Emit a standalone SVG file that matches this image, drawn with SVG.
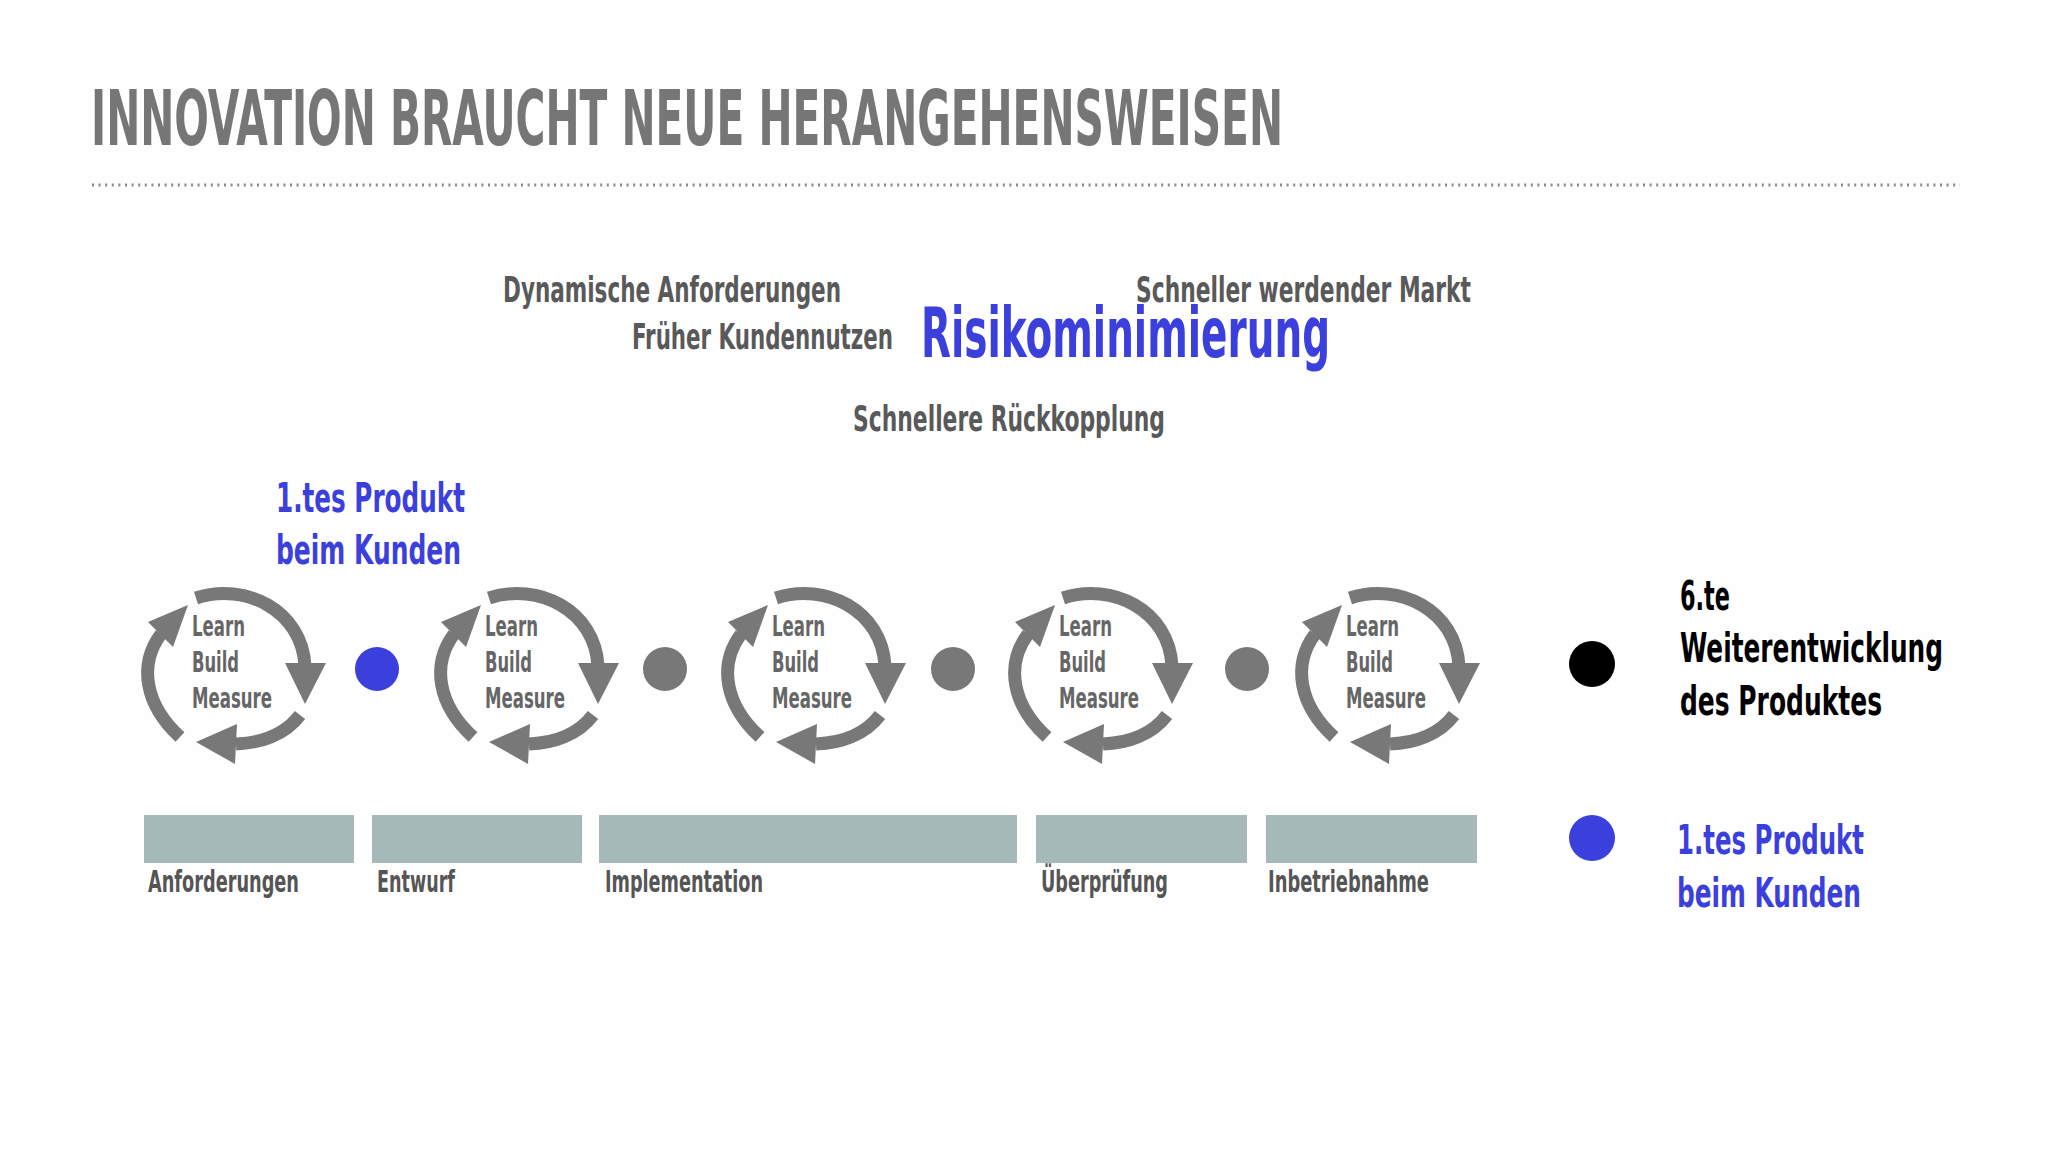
<svg xmlns="http://www.w3.org/2000/svg" width="2048" height="1152" viewBox="0 0 2048 1152">
<style>
text{font-family:"Liberation Sans Narrow","DejaVu Sans Condensed","Liberation Sans",sans-serif;font-weight:bold}
.title{font-size:77px;fill:#767676}
.kw{font-size:36px;fill:#595959}
.risk{font-size:70px;fill:#3b40dc}
.blue{font-size:40px;fill:#3b40dc}
.blk{font-size:40px;fill:#000}
.cyc{font-size:28px;fill:#666}
.lbl{font-size:31px;fill:#555}
.arc{fill:none;stroke:#787878;stroke-width:13}
.head{fill:#787878}
.bar{fill:#a6b9b9}
</style>
<defs>
<g id="cycleShape">
<path class="arc" d="M66 28 C115 12 172 40 175 96"/>
<polygon class="head" points="155,93 196,93 175,134"/>
<path class="arc" d="M170 145 C155 165 130 173 106 174"/>
<polygon class="head" points="107,154 105,194 66,172"/>
<path class="arc" d="M50 167 C15 135 8 95 31 64"/>
<polygon class="head" points="58,35 18,52 43,77"/>
</g>
</defs>
<rect width="2048" height="1152" fill="#fefefe"/>
<g id="header">
<text class="title" x="91" y="145" textLength="1192" lengthAdjust="spacingAndGlyphs">INNOVATION BRAUCHT NEUE HERANGEHENSWEISEN</text>
<line x1="92" y1="185" x2="1960" y2="185" stroke="#8a8a8a" stroke-width="3" stroke-dasharray="2 4.6"/>
</g>
<g id="keywords">
<text class="kw" x="503" y="302" textLength="338" lengthAdjust="spacingAndGlyphs">Dynamische Anforderungen</text>
<text class="kw" x="1136" y="302" textLength="335" lengthAdjust="spacingAndGlyphs">Schneller werdender Markt</text>
<text class="kw" x="632" y="349" textLength="261" lengthAdjust="spacingAndGlyphs">Früher Kundennutzen</text>
<text class="risk" x="921" y="357" textLength="409" lengthAdjust="spacingAndGlyphs">Risikominimierung</text>
<text class="kw" x="853" y="431" textLength="312" lengthAdjust="spacingAndGlyphs">Schnellere Rückkopplung</text>
</g>
<g id="first-product-label">
<text class="blue" x="276" y="512" textLength="189" lengthAdjust="spacingAndGlyphs">1.tes Produkt</text>
<text class="blue" x="276" y="564" textLength="185" lengthAdjust="spacingAndGlyphs">beim Kunden</text>
</g>
<g id="cycle1" transform="translate(130,570)">
<use href="#cycleShape"/>
<text class="cyc" x="62" y="66" textLength="53" lengthAdjust="spacingAndGlyphs">Learn</text>
<text class="cyc" x="62" y="102" textLength="47" lengthAdjust="spacingAndGlyphs">Build</text>
<text class="cyc" x="62" y="138" textLength="80" lengthAdjust="spacingAndGlyphs">Measure</text>
</g>
<g id="cycle2" transform="translate(423,570)">
<use href="#cycleShape"/>
<text class="cyc" x="62" y="66" textLength="53" lengthAdjust="spacingAndGlyphs">Learn</text>
<text class="cyc" x="62" y="102" textLength="47" lengthAdjust="spacingAndGlyphs">Build</text>
<text class="cyc" x="62" y="138" textLength="80" lengthAdjust="spacingAndGlyphs">Measure</text>
</g>
<g id="cycle3" transform="translate(710,570)">
<use href="#cycleShape"/>
<text class="cyc" x="62" y="66" textLength="53" lengthAdjust="spacingAndGlyphs">Learn</text>
<text class="cyc" x="62" y="102" textLength="47" lengthAdjust="spacingAndGlyphs">Build</text>
<text class="cyc" x="62" y="138" textLength="80" lengthAdjust="spacingAndGlyphs">Measure</text>
</g>
<g id="cycle4" transform="translate(997,570)">
<use href="#cycleShape"/>
<text class="cyc" x="62" y="66" textLength="53" lengthAdjust="spacingAndGlyphs">Learn</text>
<text class="cyc" x="62" y="102" textLength="47" lengthAdjust="spacingAndGlyphs">Build</text>
<text class="cyc" x="62" y="138" textLength="80" lengthAdjust="spacingAndGlyphs">Measure</text>
</g>
<g id="cycle5" transform="translate(1284,570)">
<use href="#cycleShape"/>
<text class="cyc" x="62" y="66" textLength="53" lengthAdjust="spacingAndGlyphs">Learn</text>
<text class="cyc" x="62" y="102" textLength="47" lengthAdjust="spacingAndGlyphs">Build</text>
<text class="cyc" x="62" y="138" textLength="80" lengthAdjust="spacingAndGlyphs">Measure</text>
</g>
<g id="dots">
<circle cx="377" cy="669" r="22" fill="#3b40dc"/>
<circle cx="665" cy="669" r="22" fill="#787878"/>
<circle cx="953" cy="669" r="22" fill="#787878"/>
<circle cx="1247" cy="669" r="22" fill="#787878"/>
</g>
<g id="phases">
<rect class="bar" x="144" y="815" width="210" height="48"/>
<rect class="bar" x="372" y="815" width="210" height="48"/>
<rect class="bar" x="599" y="815" width="418" height="48"/>
<rect class="bar" x="1036" y="815" width="211" height="48"/>
<rect class="bar" x="1266" y="815" width="211" height="48"/>
<text class="lbl" x="148" y="892" textLength="151" lengthAdjust="spacingAndGlyphs">Anforderungen</text>
<text class="lbl" x="377" y="892" textLength="78" lengthAdjust="spacingAndGlyphs">Entwurf</text>
<text class="lbl" x="605" y="892" textLength="158" lengthAdjust="spacingAndGlyphs">Implementation</text>
<text class="lbl" x="1041" y="892" textLength="127" lengthAdjust="spacingAndGlyphs">Überprüfung</text>
<text class="lbl" x="1268" y="892" textLength="161" lengthAdjust="spacingAndGlyphs">Inbetriebnahme</text>
</g>
<g id="legend-black">
<circle cx="1592" cy="664" r="23" fill="#000"/>
<text class="blk" x="1680" y="610" textLength="50" lengthAdjust="spacingAndGlyphs">6.te</text>
<text class="blk" x="1680" y="662" textLength="263" lengthAdjust="spacingAndGlyphs">Weiterentwicklung</text>
<text class="blk" x="1680" y="715" textLength="202" lengthAdjust="spacingAndGlyphs">des Produktes</text>
</g>
<g id="legend-blue">
<circle cx="1592" cy="838" r="23" fill="#3b40dc"/>
<text class="blue" x="1677" y="854" textLength="187" lengthAdjust="spacingAndGlyphs">1.tes Produkt</text>
<text class="blue" x="1677" y="907" textLength="184" lengthAdjust="spacingAndGlyphs">beim Kunden</text>
</g>
</svg>
